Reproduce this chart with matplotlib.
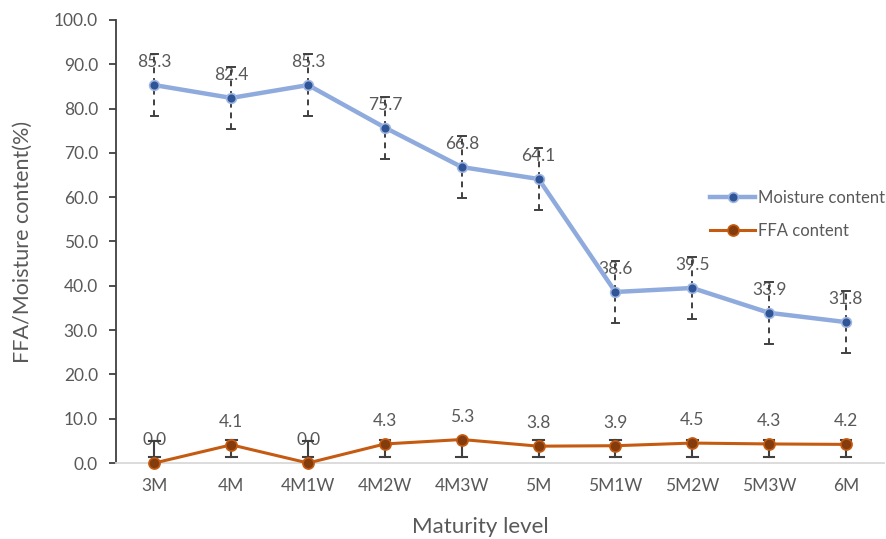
import matplotlib
matplotlib.use("Agg")
import matplotlib.pyplot as plt
from matplotlib.lines import Line2D

# Data
categories = ["3M", "4M", "4M1W", "4M2W", "4M3W", "5M", "5M1W", "5M2W", "5M3W", "6M"]
moisture = [85.3, 82.4, 85.3, 75.7, 66.8, 64.1, 38.6, 39.5, 33.9, 31.8]
moisture_err = [7.0, 7.0, 7.0, 7.0, 7.0, 7.0, 7.0, 7.0, 7.0, 7.0]
ffa = [0.0, 4.1, 0.0, 4.3, 5.3, 3.8, 3.9, 4.5, 4.3, 4.2]
ffa_err_low = [1.4, 1.4, 1.4, 1.4, 1.4, 1.4, 1.4, 1.4, 1.4, 1.4]
ffa_err_high = [5.0, 5.2, 5.0, 5.2, 5.3, 5.2, 5.2, 5.2, 5.2, 5.2]

plt.rcParams["font.family"] = ["Lato", "DejaVu Sans"]

fig = plt.figure(figsize=(8.87, 5.39), dpi=100)
ax = fig.add_axes([0.1308, 0.141, 0.8662, 0.822])

x = list(range(len(categories)))
text_gray = "#595959"
bar_gray = "#404040"

# Moisture error bars (dashed)
for xi, v, e in zip(x, moisture, moisture_err):
    ax.plot([xi, xi], [v - e, v + e], color=bar_gray, lw=1.4,
            linestyle=(0, (3, 2.5)), zorder=2)
    for yc in (v - e, v + e):
        ax.plot([xi - 0.05, xi + 0.05], [yc, yc], color=bar_gray, lw=1.4, zorder=2)

# FFA error bars (solid)
for xi, lo, hi in zip(x, ffa_err_low, ffa_err_high):
    ax.plot([xi, xi], [lo, hi], color=bar_gray, lw=1.5, zorder=2)
    for yc in (lo, hi):
        ax.plot([xi - 0.07, xi + 0.07], [yc, yc], color=bar_gray, lw=1.5, zorder=2)

ax.plot(x, moisture, color="#8FAADC", lw=3.2, marker="o", markersize=7,
        markerfacecolor="#2F5597", markeredgecolor="#9DB5E0", markeredgewidth=1.2,
        zorder=3, clip_on=False)
ax.plot(x, ffa, color="#C55A11", lw=2.2, marker="o", markersize=8,
        markerfacecolor="#843C0C", markeredgecolor="#C55A11", markeredgewidth=1.2,
        zorder=3, clip_on=False)

for xi, v in zip(x, moisture):
    ax.annotate(f"{v:.1f}", (xi, v), xytext=(0, 16.5), textcoords="offset points",
                ha="center", va="center", fontsize=12.5, color=text_gray, zorder=1)
for xi, v in zip(x, ffa):
    ax.annotate(f"{v:.1f}", (xi, v), xytext=(0, 16.5), textcoords="offset points",
                ha="center", va="center", fontsize=12.5, color=text_gray, zorder=1)

ax.set_xlim(-0.5, len(categories) - 0.5)
ax.set_ylim(0, 100)
ax.set_yticks([i * 10 for i in range(11)])
ax.set_yticklabels([f"{i * 10:.1f}" for i in range(11)])
ax.set_xticks(x)
ax.set_xticklabels(categories)

for s in ("top", "right"):
    ax.spines[s].set_visible(False)
ax.spines["left"].set_color(bar_gray)
ax.spines["left"].set_linewidth(1.3)
ax.spines["bottom"].set_color("#D9D9D9")
ax.spines["bottom"].set_linewidth(1.3)

ax.tick_params(axis="y", direction="out", length=5, width=1.3, color=bar_gray,
               labelsize=12.5, labelcolor=text_gray, pad=8)
ax.tick_params(axis="x", length=0, labelsize=12.5, labelcolor=text_gray, pad=11)

ax.set_ylabel("FFA/Moisture content(%)", fontsize=15.5, color=text_gray, labelpad=15)
fig.text(0.541, 0.022, "Maturity level", fontsize=16, color=text_gray,
         ha="center", va="center")

handles = [
    Line2D([], [], color="#8FAADC", lw=3.2, marker="o", markersize=7,
           markerfacecolor="#2F5597", markeredgecolor="#9DB5E0", markeredgewidth=1.2),
    Line2D([], [], color="#C55A11", lw=2.2, marker="o", markersize=8,
           markerfacecolor="#843C0C", markeredgecolor="#C55A11", markeredgewidth=1.2),
]
fig.legend(handles, ["Moisture content", "FFA content"], loc="upper left",
           bbox_to_anchor=(0.793, 0.66), frameon=False, fontsize=12,
           labelcolor=text_gray, handlelength=2.7, handletextpad=0.15,
           labelspacing=1.0, borderaxespad=0)

fig.savefig("out.png", dpi=100)
